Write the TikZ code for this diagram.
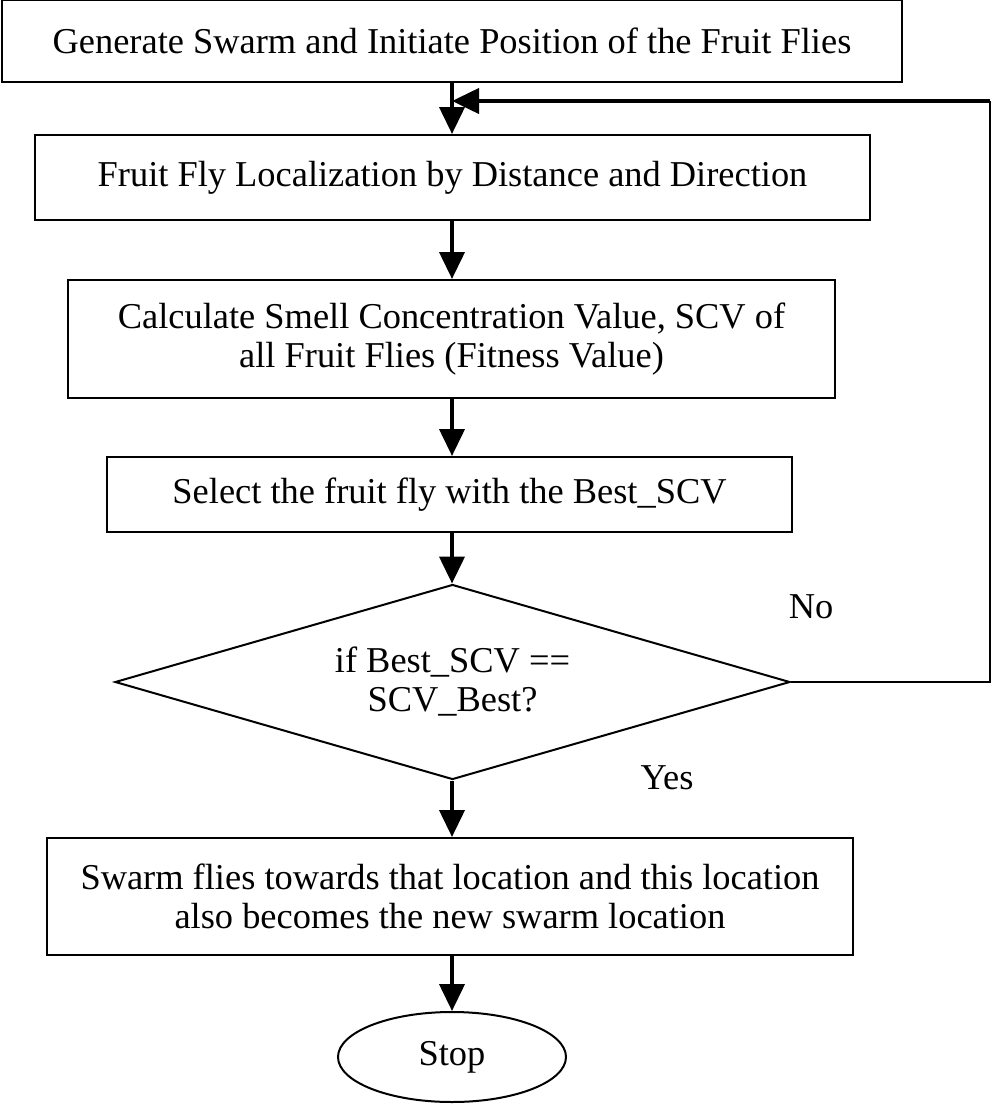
\documentclass[tikz,border=0pt]{standalone}
\usepackage{fontspec}
\setmainfont{Liberation Serif}
\usetikzlibrary{shapes.geometric}
\usetikzlibrary{arrows.meta}

\begin{document}
\begin{tikzpicture}[x=0.5pt,y=-0.5pt,
    every node/.style={font=\fontsize{18.2}{19.5}\selectfont,align=center},
    proc/.style={draw,line width=1pt,inner sep=0pt},
    flow/.style={line width=2pt,-{Triangle[length=13.5pt,width=12.5pt]}}]
  \useasboundingbox (0,0) rectangle (992,1108);
  \node[proc,minimum width=450pt,minimum height=41pt] (gen) at (452,41)
    {Generate Swarm and Initiate Position of the Fruit Flies};
  \node[proc,minimum width=417.5pt,minimum height=42.5pt] (loc) at (452.5,177.5)
    {Fruit Fly Localization by Distance and Direction};
  \node[proc,minimum width=383.5pt,minimum height=59pt] (scv) at (451.5,339)
    {Calculate Smell Concentration Value, SCV of\\all Fruit Flies (Fitness Value)};
  \node[proc,minimum width=342.5pt,minimum height=37.5pt] (sel) at (449.5,494.5)
    {Select the fruit fly with the Best\_SCV};
  \node[proc,diamond,aspect=3.46,minimum width=337.5pt,minimum height=97.5pt] (dec) at (452.5,682)
    {if Best\_SCV ==\\SCV\_Best?};
  \node[proc,minimum width=403pt,minimum height=58.5pt] (swm) at (450,896.5)
    {Swarm flies towards that location and this location\\also becomes the new swarm location};
  \node[proc,ellipse,minimum width=114pt,minimum height=45pt] (stop) at (452,1057) {Stop};
  \node (no) at (811,607) {No};
  \node (yes) at (667,778) {Yes};
  \coordinate (fb) at (990,101);
  % main flow
  \draw[flow] (gen.south -| stop.north) -- (loc.north -| stop.north);
  \draw[flow] (loc.south -| stop.north) -- (scv.north -| stop.north);
  \draw[flow] (scv.south -| stop.north) -- (sel.north -| stop.north);
  \draw[flow] (sel.south -| stop.north) -- (dec.north -| stop.north);
  \draw[flow] (dec.south -| stop.north) -- (swm.north -| stop.north);
  \draw[flow] (swm.south -| stop.north) -- (stop.north);
  % loop back
  \draw[line width=1pt] (dec.east) -| (fb);
  \draw[flow] (fb) -- (stop.north |- fb);
\end{tikzpicture}
\end{document}
